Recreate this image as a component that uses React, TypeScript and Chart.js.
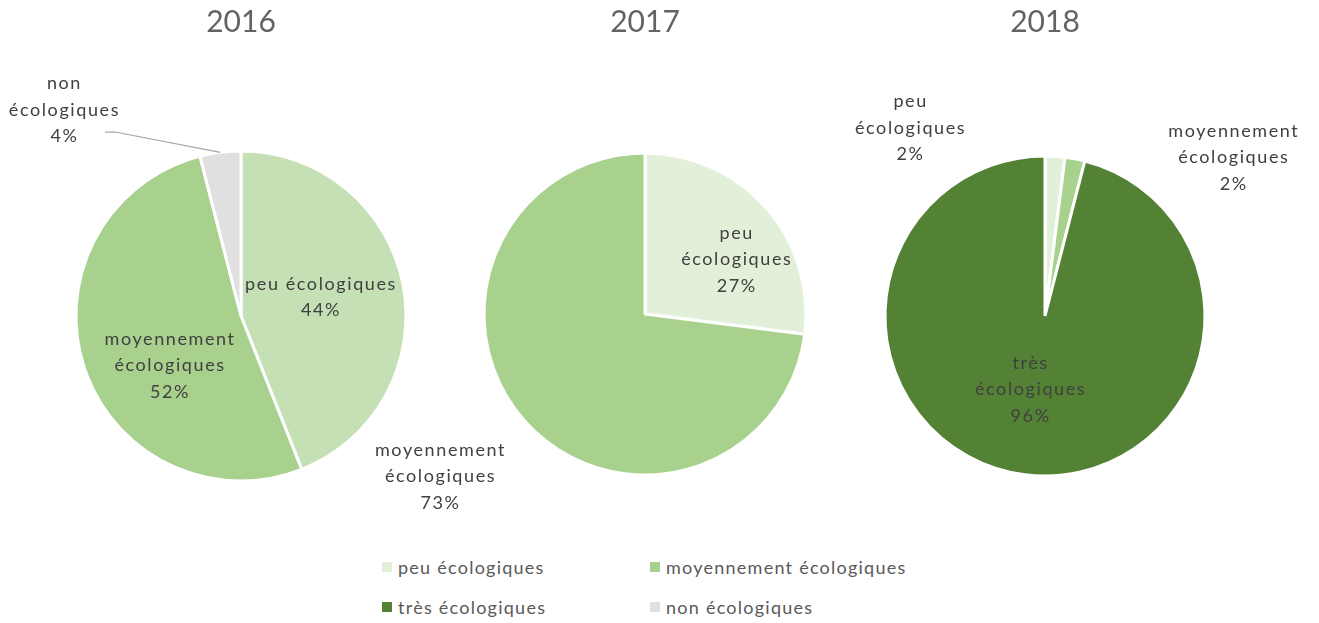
import React, { useEffect, useRef } from "react";
import { Chart, registerables } from "chart.js";
Chart.register(...registerables);

const categories = ["peu écologiques", "moyennement écologiques", "très écologiques", "non écologiques"];
const years = ["2016", "2017", "2018"];
const values2016 = [44, 52, 0, 4];
const values2017 = [27, 73, 0, 0];
const values2018 = [2, 2, 96, 0];
const legendColors = ["#E2F0D9", "#A9D18E", "#548235", "#E0E0E0"];
const colors2016 = ["#C5E0B4", "#A9D18E", "#548235", "#E0E0E0"];

const FONT = "Lato, 'Open Sans', sans-serif";
const LABEL_LH = 26.5;

type LabelItem = { index: number; dx: number; dy: number; wrap: boolean; leader?: [number, number] };

const sliceLabelPlugin = {
  id: "sliceLabels",
  afterDatasetsDraw(chart: any, _args: any, opts: any) {
    const items: LabelItem[] = opts.items || [];
    const meta = chart.getDatasetMeta(0);
    const data: number[] = chart.data.datasets[0].data;
    const total = data.reduce((a, b) => a + b, 0);
    const first = meta.data[0];
    const cx = first.x, cy = first.y, R = first.outerRadius;
    const ctx = chart.ctx;
    ctx.save();
    ctx.font = `18px ${FONT}`;
    (ctx as any).letterSpacing = "1.6px";
    ctx.fillStyle = "#404040";
    ctx.textAlign = "center";
    ctx.textBaseline = "middle";
    items.forEach((it) => {
      const name: string = chart.data.labels[it.index];
      const pct = Math.round((data[it.index] / total) * 100) + "%";
      const lines = it.wrap ? [...name.split(" "), pct] : [name, pct];
      const x = cx + it.dx * R;
      const y0 = cy + it.dy * R - ((lines.length - 1) * LABEL_LH) / 2;
      lines.forEach((l, i) => ctx.fillText(l, x, y0 + i * LABEL_LH));
      if (it.leader) {
        const arc = meta.data[it.index];
        const mid = (arc.startAngle + arc.endAngle) / 2;
        const ex = cx + Math.cos(mid) * R;
        const ey = cy + Math.sin(mid) * R;
        const sx = cx + it.leader[0] * R;
        const sy = cy + it.leader[1] * R;
        ctx.strokeStyle = "#A6A6A6";
        ctx.lineWidth = 1.2;
        ctx.beginPath();
        ctx.moveTo(sx, sy);
        ctx.lineTo(sx + 10, sy);
        ctx.lineTo(ex, ey);
        ctx.stroke();
      }
    });
    ctx.restore();
  },
};

type PieProps = {
  title: string;
  values: number[];
  colors: string[];
  cx: number;
  cy: number;
  r: number;
  items: LabelItem[];
};

const W = 600;
const H = 540;

function Pie({ title, values, colors, cx, cy, r, items }: PieProps) {
  const ref = useRef<HTMLCanvasElement>(null);
  useEffect(() => {
    if (!ref.current) return;
    const side = 2 * r + 3;
    const top = cy - side / 2;
    const pad = (W - side) / 2;
    const chart = new Chart(ref.current, {
      type: "pie",
      data: {
        labels: categories,
        datasets: [
          {
            data: values,
            backgroundColor: colors,
            borderColor: "#FFFFFF",
            borderWidth: 3,
          },
        ],
      },
      options: {
        responsive: false,
        animation: false,
        events: [],
        layout: { padding: { left: pad, right: pad, top: 0, bottom: H - (top + side) } },
        plugins: {
          legend: { display: false },
          tooltip: { enabled: false },
          title: {
            display: true,
            text: title,
            color: "#636363",
            font: { family: FONT, size: 30, weight: "normal", lineHeight: 1.2 },
            padding: { top: 4, bottom: top - 40 },
          },
          sliceLabels: { items },
        } as any,
      },
      plugins: [sliceLabelPlugin],
    });
    return () => chart.destroy();
  }, []);
  return (
    <canvas
      ref={ref}
      width={W}
      height={H}
      style={{ position: "absolute", left: cx - W / 2, top: 0, width: W, height: H }}
    />
  );
}

const legendOrder = [0, 1, 2, 3];

export default function App() {
  return (
    <div
      style={{
        position: "absolute",
        left: 0,
        top: 0,
        width: 1319,
        height: 623,
        overflow: "hidden",
        background: "#FFFFFF",
      }}
    >
      <Pie
        title={years[0]}
        values={values2016}
        colors={colors2016}
        cx={241}
        cy={316}
        r={165}
        items={[
          { index: 0, dx: 0.485, dy: -0.115, wrap: false },
          { index: 1, dx: -0.43, dy: 0.3, wrap: true },
          { index: 3, dx: -1.07, dy: -1.25, wrap: true, leader: [-0.824, -1.115] },
        ]}
      />
      <Pie
        title={years[1]}
        values={values2017}
        colors={legendColors}
        cx={645}
        cy={314}
        r={161}
        items={[
          { index: 0, dx: 0.57, dy: -0.34, wrap: true },
          { index: 1, dx: -1.27, dy: 1.01, wrap: true },
        ]}
      />
      <Pie
        title={years[2]}
        values={values2018}
        colors={legendColors}
        cx={1045}
        cy={316}
        r={160}
        items={[
          { index: 0, dx: -0.84, dy: -1.175, wrap: true },
          { index: 1, dx: 1.18, dy: -0.99, wrap: true },
          { index: 2, dx: -0.09, dy: 0.46, wrap: true },
        ]}
      />
      {legendOrder.map((i, k) => {
        const col = k % 2;
        const row = Math.floor(k / 2);
        const left = col === 0 ? 382 : 650;
        const top = row === 0 ? 557 : 597;
        return (
          <div
            key={i}
            style={{
              position: "absolute",
              left,
              top,
              height: 20,
              display: "flex",
              alignItems: "center",
              fontFamily: FONT,
              fontSize: 18,
              letterSpacing: "1.25px",
              color: "#595959",
              whiteSpace: "nowrap",
            }}
          >
            <span
              style={{ display: "inline-block", width: 10, height: 10, background: legendColors[i], marginRight: 6 }}
            />
            <span>{categories[i]}</span>
          </div>
        );
      })}
    </div>
  );
}
